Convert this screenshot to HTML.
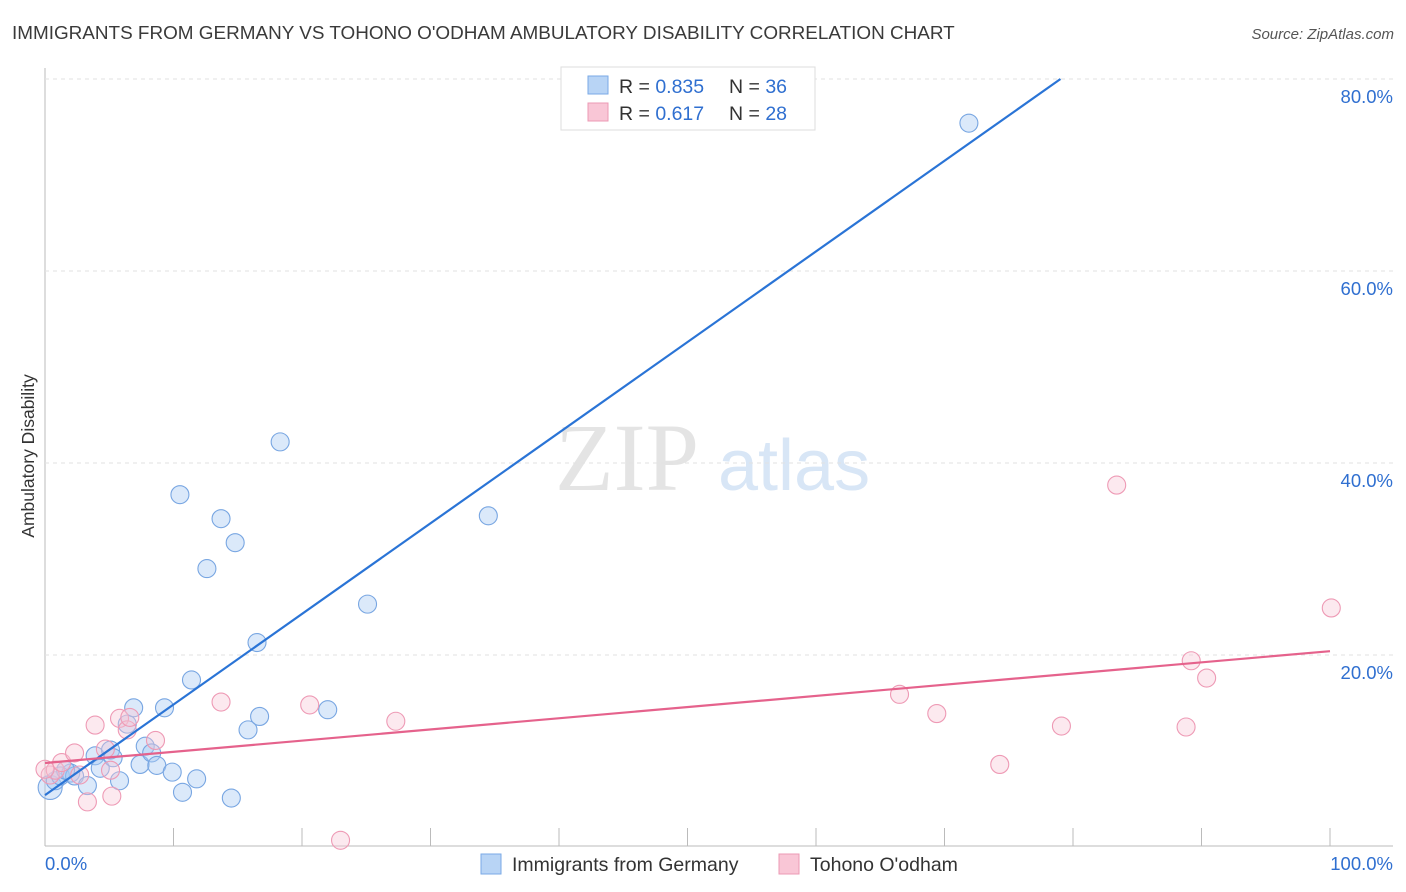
<!DOCTYPE html>
<html><head><meta charset="utf-8"><style>
body{margin:0;background:#fff;font-family:"Liberation Sans",sans-serif}
</style></head><body>
<svg id="c" width="1406" height="892" style="display:block">
<text x="12" y="39" font-size="18.9" fill="#3a3a3a">IMMIGRANTS FROM GERMANY VS TOHONO O'ODHAM AMBULATORY DISABILITY CORRELATION CHART</text>
<text x="1394" y="39" font-size="15" fill="#555" font-style="italic" text-anchor="end">Source: ZipAtlas.com</text>
<text x="34" y="456" font-size="17.5" fill="#333" text-anchor="middle" transform="rotate(-90 34 456)">Ambulatory Disability</text>
<text x="555" y="490" font-size="96" fill="#e4e4e4" font-family="Liberation Serif,serif">ZIP</text>
<text x="718" y="490" font-size="72" fill="#d8e6f6">atlas</text>
<g id="grid"></g><g id="pts"></g><g id="lines"></g>
<g>
<rect x="561" y="67" width="254" height="63" fill="#fff" stroke="#ddd"/>
<rect x="588" y="76" width="20" height="18" fill="#b8d4f5" stroke="#7aa9e6"/>
<rect x="588" y="103" width="20" height="18" fill="#f9c6d6" stroke="#ec9ab4"/>
<text x="619" y="93" font-size="19.5" fill="#333">R = <tspan fill="#2f6fd0">0.835</tspan><tspan x="729">N = </tspan><tspan fill="#2f6fd0">36</tspan></text>
<text x="619" y="120" font-size="19.5" fill="#333">R = <tspan fill="#2f6fd0"> 0.617</tspan><tspan x="729">N = </tspan><tspan fill="#2f6fd0">28</tspan></text>
</g>
<g>
<rect x="481" y="854" width="20" height="20" fill="#b8d4f5" stroke="#7aa9e6"/>
<text x="512" y="871" font-size="19.5" fill="#333">Immigrants from Germany</text>
<rect x="779" y="854" width="20" height="20" fill="#f9c6d6" stroke="#ec9ab4"/>
<text x="810" y="871" font-size="19.5" fill="#333">Tohono O'odham</text>
</g>
<text x="45" y="870" font-size="18.5" fill="#2f6fd0">0.0%</text>
<text x="1393" y="870" font-size="18.5" fill="#2f6fd0" text-anchor="end">100.0%</text>
</svg>
<script>
const yTicks=[20,40,60,80];
const xTicks=[0,10,20,30,40,50,60,70,80,90,100];
const blueX=[0.4,0.8,1.2,2,2.3,3.3,3.9,4.3,5.1,5.3,5.8,6.4,6.9,7.4,7.8,8.3,8.7,9.3,9.9,10.7,11.4,11.8,12.6,13.7,14.5,14.8,15.8,16.5,16.7,18.3,22,25.1,10.5,34.5,71.9,1.6];
const blueY=[6.2,6.9,7.4,7.7,7.4,6.4,9.5,8.2,10.1,9.3,6.9,12.8,14.5,8.6,10.5,9.8,8.5,14.5,7.8,5.7,17.4,7.1,29.0,34.2,5.1,31.7,12.2,21.3,13.6,42.2,14.3,25.3,36.7,34.5,75.4,8.0];
const pinkX=[0.4,0.8,1.3,2.3,2.7,3.3,3.9,4.7,5.2,5.1,5.8,6.4,6.6,8.6,13.7,20.6,23,27.3,66.5,69.4,79.1,83.4,74.3,88.8,89.2,90.4,100.1,0];
const pinkY=[7.5,8.0,8.8,9.8,7.5,4.7,12.7,10.2,5.3,8.0,13.4,12.2,13.5,11.1,15.1,14.8,0.7,13.1,15.9,13.9,12.6,37.7,8.6,12.5,19.4,17.6,24.9,8.1];
const blueFit=[5.4,0.944];
const pinkFit=[8.75,0.1165];
const X=v=>45+v*12.85, Y=v=>847-v*9.6;
const NS='http://www.w3.org/2000/svg';
function mk(t,a,p){const e=document.createElementNS(NS,t);for(const k in a)e.setAttribute(k,a[k]);p.appendChild(e);return e;}
const g=document.getElementById('grid');
const ax=mk('line',{x1:45,y1:68,x2:45,y2:846,stroke:'#bbb'},g);


const bx=mk('line',{x1:45,y1:846,x2:1393,y2:846,stroke:'#bbb'},g);


yTicks.forEach(t=>{
 const l=mk('line',{x1:45,x2:1393,y1:Y(t),y2:Y(t),stroke:'#e2e2e2','stroke-dasharray':'4,4'},g);
 
 
 const s=mk('text',{x:1393,y:Y(t)+24,'font-size':18.5,fill:'#2f6fd0','text-anchor':'end'},g);
 s.textContent=t.toFixed(1)+'%';
 
 
});
xTicks.forEach(t=>{
 const l=mk('line',{x1:X(t),x2:X(t),y1:828,y2:846,stroke:'#bbb'},g);
 
 
});
const P=document.getElementById('pts');
blueX.forEach((v,i)=>{
 const c=mk('circle',{cx:X(v),cy:Y(blueY[i]),r:i==0?12:9,fill:'rgba(170,202,242,0.42)',stroke:'#78a6e2','stroke-width':1.1},P);
 
 
});
pinkX.forEach((v,i)=>{
 const c=mk('circle',{cx:X(v),cy:Y(pinkY[i]),r:9,fill:'rgba(248,196,212,0.38)',stroke:'#ee9ab5','stroke-width':1.1},P);
 
 
});
const L=document.getElementById('lines');
const xe=(80-blueFit[0])/blueFit[1];
const bl=mk('line',{x1:X(0),y1:Y(blueFit[0]),x2:X(xe),y2:Y(80),stroke:'#2a74d6','stroke-width':2.2},L);


const pl=mk('line',{x1:X(0),y1:Y(pinkFit[0]),x2:X(100),y2:Y(pinkFit[0]+100*pinkFit[1]),stroke:'#e5628c','stroke-width':2.2},L);


</script>
</body></html>
